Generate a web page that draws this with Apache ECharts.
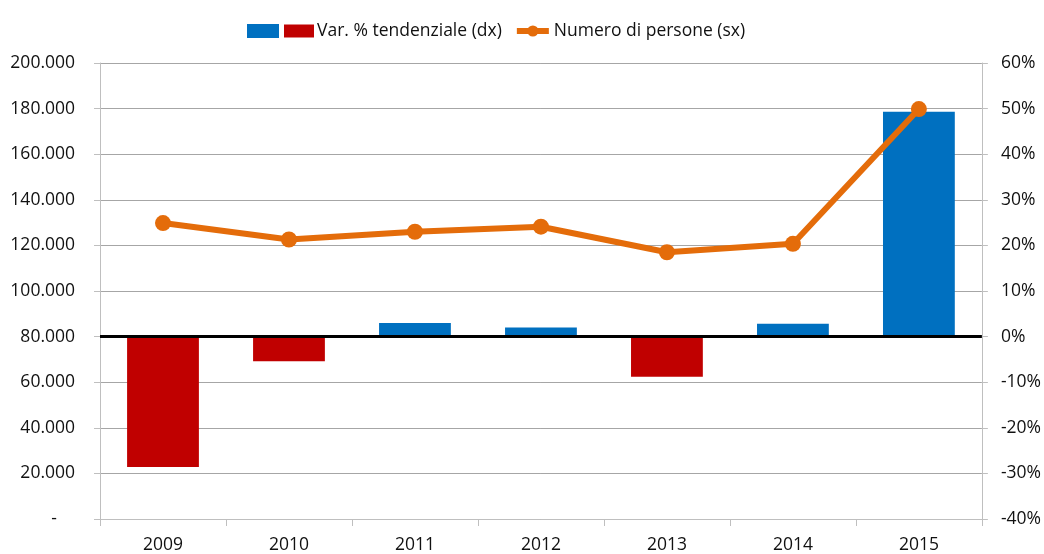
<!DOCTYPE html>
<html>
<head>
<meta charset="utf-8">
<script src="https://cdn.jsdelivr.net/npm/echarts@6/dist/echarts.min.js"></script>
<style>html,body{margin:0;padding:0;background:#fff}#c{width:1044px;height:554px}</style>
</head>
<body>
<div id="c"></div>
<script>
const categories = ['2009','2010','2011','2012','2013','2014','2015'];
const personeValues = [129800, 122600, 126000, 128200, 117000, 120700, 179800];
const varPctValues = [-28.6, -5.4, 3.0, 2.0, -8.8, 2.8, 49.3];
const barName = 'Var. % tendenziale (dx)';
const lineName = 'Numero di persone (sx)';

const FONT = 'Open Sans';
const FS = 17.5;
const TXT = '#111';
const chart = echarts.init(document.getElementById('c'), null, {renderer: 'canvas'});
function fmtThousands(v) {
  if (v === 0) return '-    ';
  return String(v).replace(/\B(?=(\d{3})+(?!\d))/g, '.');
}
chart.setOption({
  animation: false,
  backgroundColor: '#fff',
  textStyle: {fontFamily: FONT},
  legend: {
    top: 17, left: 242,
    itemGap: 12,
    textStyle: {fontSize: FS, color: TXT, fontFamily: FONT,
      rich: {r: {backgroundColor: '#C00000', width: 30, height: 13}, t: {fontSize: FS, color: TXT, fontFamily: FONT, padding: [0,0,0,3]}}},
    data: [
      {name: barName, icon: 'rect', itemStyle: {color: '#0070C0'}},
      {name: lineName, lineStyle: {width: 6, color: '#E46C0A'}, itemStyle: {color: '#E46C0A'}}
    ],
    formatter: function (n) { return n === barName ? '{r|}{t|' + n + '}' : n; },
    itemWidth: 32, itemHeight: 14
  },
  grid: {left: 100, right: 61, top: 63, bottom: 33, containLabel: false},
  xAxis: {
    type: 'category', data: categories, boundaryGap: true,
    axisLine: {lineStyle: {color: '#BFBFBF', width: 1}},
    axisTick: {show: true, length: 7, lineStyle: {color: '#BFBFBF'}},
    axisLabel: {fontSize: FS, color: TXT, margin: 17, fontFamily: FONT}
  },
  yAxis: [
    {
      type: 'value', min: 0, max: 200000, interval: 20000, position: 'left',
      axisLine: {show: true, lineStyle: {color: '#BFBFBF'}},
      axisTick: {show: true, length: 6, lineStyle: {color: '#BFBFBF'}},
      splitLine: {show: true, lineStyle: {color: '#A6A6A6', width: 1}},
      axisLabel: {fontSize: FS, color: TXT, margin: 25, formatter: fmtThousands, fontFamily: FONT}
    },
    {
      type: 'value', min: -40, max: 60, interval: 10, position: 'right',
      axisLine: {show: true, lineStyle: {color: '#BFBFBF'}},
      axisTick: {show: true, length: 6, lineStyle: {color: '#BFBFBF'}},
      splitLine: {show: false},
      axisLabel: {fontSize: FS, color: TXT, margin: 19, formatter: '{value}%', fontFamily: FONT}
    }
  ],
  series: [
    {
      name: barName, type: 'bar', yAxisIndex: 1, data: varPctValues,
      barWidth: '57%',
      itemStyle: {color: function (p) { return p.value < 0 ? '#C00000' : '#0070C0'; }},
      markLine: {
        silent: true, symbol: ['none','none'], label: {show: false},
        lineStyle: {color: '#000', width: 3, type: 'solid'},
        data: [{yAxis: 0}]
      },
      z: 2
    },
    {
      name: lineName, type: 'line', yAxisIndex: 0, data: personeValues,
      symbol: 'circle', symbolSize: 16,
      lineStyle: {color: '#E46C0A', width: 6},
      itemStyle: {color: '#E46C0A'},
      z: 5
    }
  ]
});
</script>
</body>
</html>
